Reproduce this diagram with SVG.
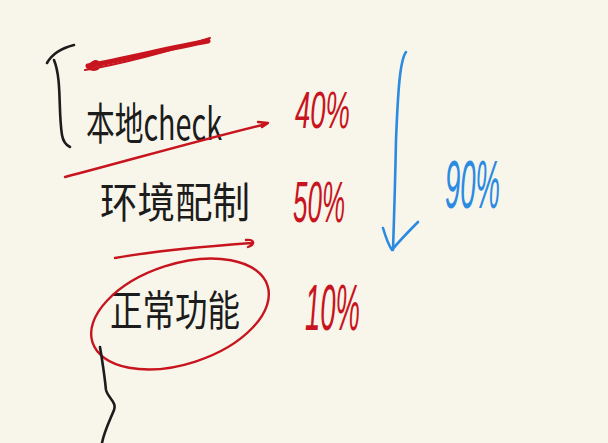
<svg xmlns="http://www.w3.org/2000/svg" width="608" height="443" viewBox="0 0 608 443">
<style>
.bg{fill:#f8f6ea}
.ink{fill:none;stroke:#1c1c1c;stroke-width:2.6;stroke-linecap:round;stroke-linejoin:round}
.red{fill:none;stroke:#c8141e;stroke-width:2.4;stroke-linecap:round;stroke-linejoin:round}
.blue{fill:none;stroke:#2b8ae2;stroke-width:2.6;stroke-linecap:round;stroke-linejoin:round}
.t{font-family:"Noto Sans CJK SC","Liberation Sans",sans-serif;fill:#1c1c1c}
.pr{font-family:"Liberation Sans","Noto Sans",sans-serif;fill:#c8141e;font-style:italic}
.pb{font-family:"Liberation Sans","Noto Sans",sans-serif;fill:#2b8ae2;font-style:italic}
</style>
<rect class="bg" x="0" y="0" width="608" height="443"/>
<g id="bracket">
<path class="ink" d="M74,45 C62,48 52,54 47,63 M54,60 C62,80 58,110 62,135 C63,141 66,145 70,147"/>
</g>
<g id="pen">
<path class="red" style="stroke-width:5" d="M88,66 C130,58 170,48 208,41"/>
<path class="red" style="stroke-width:2" d="M85,70 C120,64 160,54 210,38 M95,61 C88,64 84,70 94,70 C100,70 102,62 96,61 C92,66 90,70 98,68"/>
</g>
<g id="node-local">
<text class="t" x="86" y="140" font-size="44" textLength="136" lengthAdjust="spacingAndGlyphs">本地check</text>
<text class="pr" x="295" y="128" font-size="52" textLength="55" lengthAdjust="spacingAndGlyphs">40%</text>
</g>
<g id="node-env">
<text class="t" x="100" y="218" font-size="42" textLength="150" lengthAdjust="spacingAndGlyphs">环境配制</text>
<text class="pr" x="293" y="222" font-size="58" textLength="52" lengthAdjust="spacingAndGlyphs">50%</text>
</g>
<g id="node-normal">
<text class="t" x="110" y="326" font-size="42" textLength="130" lengthAdjust="spacingAndGlyphs">正常功能</text>
<text class="pr" x="305" y="330" font-size="64" textLength="55" lengthAdjust="spacingAndGlyphs">10%</text>
<ellipse class="red" cx="180" cy="314" rx="92" ry="50" transform="rotate(-18 180 314)"/>
</g>
<g id="node-total">
<text class="pb" x="445" y="208" font-size="68" textLength="55" lengthAdjust="spacingAndGlyphs">90%</text>
</g>
<g id="connectors">
<path class="red" d="M65,177 C130,160 200,140 266,124 M258,122 L268,123 L262,127"/>
<path class="red" d="M115,258 C160,250 210,246 252,243 M246,240 C254,239 256,244 248,247"/>
<path class="ink" d="M100,347 C103,365 105,380 106,390 C108,398 117,402 114,410 C110,420 104,432 102,443"/>
<path class="blue" d="M406,52 C400,60 398,90 396,140 C395,190 394,220 393,250 M383,228 C386,238 389,246 392,250 C400,240 410,230 418,222"/>
</g>
</svg>
